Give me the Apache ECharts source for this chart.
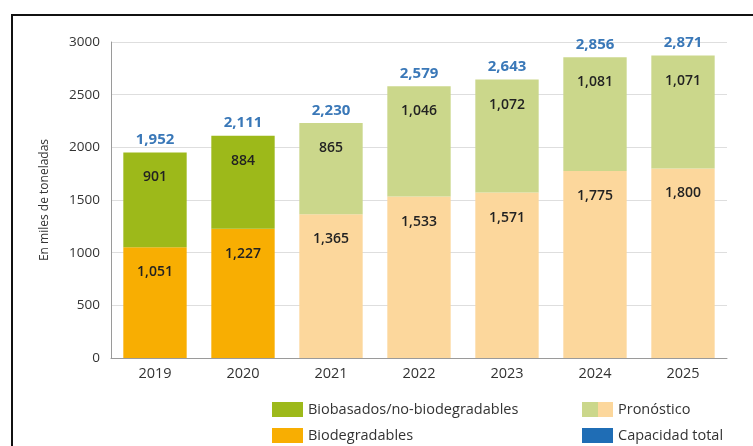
<!DOCTYPE html>
<html>
<head>
<meta charset="utf-8">
<script src="https://cdn.jsdelivr.net/npm/echarts@6/dist/echarts.min.js"></script>
<style>
  html, body { margin: 0; padding: 0; background: #fff; }
  #chart { width: 753px; height: 446px; }
</style>
</head>
<body>
<div id="chart"></div>
<script>
// Años y capacidad de producción (miles de toneladas)
const years = ['2019', '2020', '2021', '2022', '2023', '2024', '2025'];
const biodegradables = [1051, 1227, 1365, 1533, 1571, 1775, 1800];
const biobasados = [901, 884, 865, 1046, 1072, 1081, 1071];
const totals = [1952, 2111, 2230, 2579, 2643, 2856, 2871];
const forecastFrom = 2; // índice del primer año pronosticado
const yTicks = [0, 500, 1000, 1500, 2000, 2500, 3000];

const C = {
  green: '#9db91a',
  greenLight: '#cbd78b',
  orange: '#f8ae02',
  orangeLight: '#fcd79c',
  blue: '#1f6db5',
  blueLabel: '#3a78b8'
};

const FONT = '"Open Sans", "Noto Sans", sans-serif';

function coloured(values, base, light) {
  return values.map((v, i) => ({
    value: v,
    itemStyle: { color: i >= forecastFrom ? light : base }
  }));
}

const fmt = v => v.toLocaleString('en-US');

const segLabel = {
  show: true,
  position: 'insideTop',
  distance: 18,
  color: '#222',
  fontFamily: FONT,
  fontWeight: 600,
  fontSize: 14,
  formatter: p => fmt(p.value)
};

const chart = echarts.init(document.getElementById('chart'), null, { renderer: 'canvas' });

chart.setOption({
  animation: false,
  backgroundColor: '#fff',
  grid: { left: 111, right: 26, top: 42, bottom: 88 },
  xAxis: {
    type: 'category',
    data: years,
    axisLine: { lineStyle: { color: '#9a9a9a', width: 1 } },
    axisTick: { show: false },
    axisLabel: { color: '#333', fontFamily: FONT, fontSize: 14.5, margin: 8 }
  },
  yAxis: {
    type: 'value',
    min: yTicks[0],
    max: yTicks[yTicks.length - 1],
    interval: yTicks[1] - yTicks[0],
    name: 'En miles de toneladas',
    nameLocation: 'middle',
    nameGap: 60,
    nameTextStyle: { color: '#333', fontFamily: FONT, fontSize: 12 },
    axisLine: { show: true, lineStyle: { color: '#9a9a9a', width: 1 } },
    axisTick: { show: false },
    axisLabel: {
      color: '#333', fontFamily: FONT, fontSize: 13.5, margin: 11,
      formatter: v => String(v)
    },
    splitLine: { lineStyle: { color: '#dedede', width: 1 } }
  },
  series: [
    {
      name: 'Biodegradables',
      type: 'bar',
      stack: 'total',
      barCategoryGap: '28%',
      data: coloured(biodegradables, C.orange, C.orangeLight),
      label: segLabel
    },
    {
      name: 'Biobasados/no-biodegradables',
      type: 'bar',
      stack: 'total',
      data: coloured(biobasados, C.green, C.greenLight),
      label: segLabel
    },
    {
      name: 'Capacidad total',
      type: 'bar',
      barGap: '-100%',
      silent: true,
      z: 1,
      data: totals,
      itemStyle: { color: 'rgba(0,0,0,0)' },
      label: {
        show: true,
        position: 'top',
        distance: 5,
        color: C.blueLabel,
        fontFamily: FONT,
        fontWeight: 'bold',
        fontSize: 15,
        formatter: p => fmt(p.value)
      }
    }
  ],
  graphic: [
    {
      type: 'rect',
      shape: { x: 12, y: 15, width: 800, height: 500 },
      style: { fill: 'none', stroke: '#111', lineWidth: 2 },
      silent: true
    },
    // Leyenda
    { type: 'rect', shape: { x: 272, y: 402, width: 31, height: 15 }, style: { fill: C.green } },
    { type: 'text', x: 308, y: 409.5, style: { text: 'Biobasados/no-biodegradables', fill: '#333', font: '14.5px ' + FONT, verticalAlign: 'middle' } },
    { type: 'rect', shape: { x: 272, y: 428, width: 31, height: 15 }, style: { fill: C.orange } },
    { type: 'text', x: 308, y: 435.5, style: { text: 'Biodegradables', fill: '#333', font: '14.5px ' + FONT, verticalAlign: 'middle' } },
    { type: 'rect', shape: { x: 582, y: 402, width: 16, height: 15 }, style: { fill: C.greenLight } },
    { type: 'rect', shape: { x: 598, y: 402, width: 15, height: 15 }, style: { fill: C.orangeLight } },
    { type: 'text', x: 618, y: 409.5, style: { text: 'Pronóstico', fill: '#333', font: '14.5px ' + FONT, verticalAlign: 'middle' } },
    { type: 'rect', shape: { x: 582, y: 428, width: 31, height: 15 }, style: { fill: C.blue } },
    { type: 'text', x: 618, y: 435.5, style: { text: 'Capacidad total', fill: '#333', font: '14.5px ' + FONT, verticalAlign: 'middle' } }
  ]
});
</script>
</body>
</html>
